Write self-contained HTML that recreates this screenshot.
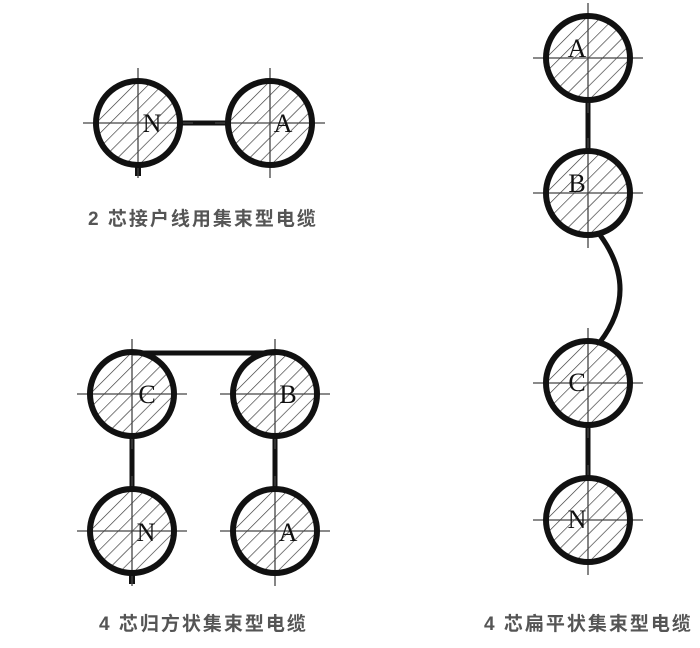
<!DOCTYPE html>
<html><head><meta charset="utf-8"><style>
html,body{margin:0;padding:0;background:#fff;}
svg{display:block;}
</style></head><body>
<svg width="700" height="648" viewBox="0 0 700 648" xmlns="http://www.w3.org/2000/svg">
<defs>
<pattern id="h" patternUnits="userSpaceOnUse" width="10" height="10" patternTransform="rotate(45)">
<line x1="0" y1="0" x2="0" y2="10" stroke="#333" stroke-width="1.3"/>
</pattern>
<g id="c">
<circle r="42" fill="url(#h)"/>
<line x1="-55" y1="0" x2="55" y2="0" stroke="#444" stroke-width="1.3"/>
<line x1="0" y1="-55" x2="0" y2="55" stroke="#444" stroke-width="1.3"/>
<circle r="42" fill="none" stroke="#111" stroke-width="6"/>
</g>
</defs>
<g stroke="#111" stroke-width="5" fill="none">
<line x1="180" y1="123" x2="228" y2="123"/>
<line x1="132" y1="353" x2="275" y2="353"/>
<line x1="132" y1="436" x2="132" y2="489"/>
<line x1="275" y1="436" x2="275" y2="489"/>
<line x1="588" y1="100" x2="588" y2="151"/>
<line x1="588" y1="425" x2="588" y2="476"/>
<path d="M600 235 Q640 290 600 342"/>
<line x1="138" y1="165" x2="138" y2="176" stroke-width="6"/>
<line x1="132" y1="573" x2="132" y2="584" stroke-width="6"/>
</g>
<use href="#c" x="138" y="123"/>
<use href="#c" x="270" y="123"/>
<use href="#c" x="132" y="394"/>
<use href="#c" x="275" y="394"/>
<use href="#c" x="132" y="531"/>
<use href="#c" x="275" y="531"/>
<use href="#c" x="588" y="58"/>
<use href="#c" x="588" y="193"/>
<use href="#c" x="588" y="383"/>
<use href="#c" x="588" y="520"/>
<g font-family="Liberation Serif, serif" font-size="26" fill="#111" text-anchor="middle">
<text x="152" y="132">N</text>
<text x="283" y="132">A</text>
<text x="147" y="403">C</text>
<text x="288" y="403">B</text>
<text x="146" y="541">N</text>
<text x="288" y="541">A</text>
<text x="577" y="57">A</text>
<text x="577" y="192">B</text>
<text x="577" y="391">C</text>
<text x="577" y="528">N</text>
</g>
<g font-family="Liberation Sans, Noto Sans CJK SC, sans-serif" font-size="19" font-weight="bold" fill="#555">
<text x="88" y="225" letter-spacing="2">2 芯接户线用集束型电缆</text>
<text x="99" y="630" letter-spacing="2">4 芯归方状集束型电缆</text>
<text x="484" y="630" letter-spacing="2">4 芯扁平状集束型电缆</text>
</g>
</svg>
</body></html>
